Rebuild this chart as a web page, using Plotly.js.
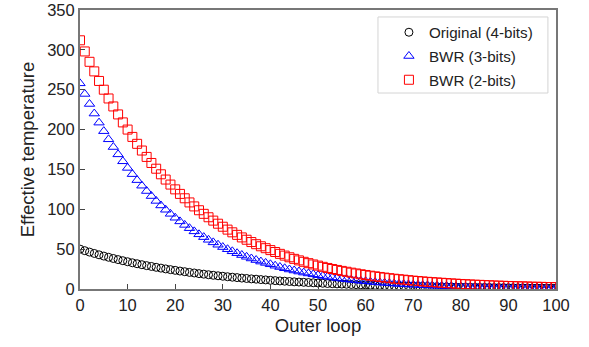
<!DOCTYPE html>
<html>
<head>
<meta charset="utf-8">
<script src="https://cdn.plot.ly/plotly-3.0.1.min.js"></script>
<style>html,body{margin:0;padding:0;background:#fff;}#chart{width:589px;height:347px;}</style>
</head>
<body>
<div id="chart"></div>
<script>
const outerLoop = Array.from({length: 101}, (_, i) => i);

const original4 = [50.0,48.1,46.3,44.6,42.9,41.3,39.8,38.3,36.9,35.5,
34.2,32.9,31.7,30.5,29.3,28.3,27.2,26.2,25.2,24.3,
23.4,22.5,21.7,20.8,20.1,19.3,18.6,17.9,17.2,16.6,
16.0,15.4,14.8,14.3,13.7,13.2,12.7,12.3,11.8,11.4,
10.9,10.5,10.1,9.8,9.4,9.0,8.7,8.4,8.1,7.8,
7.5,7.2,6.9,6.7,6.4,6.2,6.0,5.7,5.5,5.3,
5.1,4.9,4.7,4.6,4.4,4.2,4.1,3.9,3.8,3.6,
3.5,3.4,3.3,3.1,3.0,2.9,2.8,2.7,2.6,2.5,
2.4,2.3,2.2,2.1,2.0,2.0,1.9,1.8,1.8,1.7,
1.6,1.6,1.5,1.5,1.4,1.3,1.3,1.3,1.2,1.2,1.1];

const bwr3 = [258,244.7,232.1,220.1,208.7,198.0,187.8,178.1,168.9,160.2,
151.9,144.1,136.6,129.6,122.9,116.6,110.5,104.8,99.4,94.3,
89.4,84.8,80.4,76.3,72.3,68.6,65.1,61.7,58.5,55.5,
52.6,49.9,47.3,44.9,42.6,40.4,38.3,36.3,34.4,32.7,
31.0,29.2,27.6,26.0,24.5,23.2,21.9,20.6,19.5,18.4,
17.3,16.3,15.4,14.5,13.7,12.9,12.2,11.5,10.9,10.2,
9.7,9.1,8.6,8.1,7.7,7.2,6.8,6.4,6.1,5.7,
5.4,5.1,4.8,4.5,4.3,4.0,3.8,3.6,3.4,3.2,
3.0,2.8,2.7,2.5,2.4,2.2,2.1,2.0,1.9,1.8,
1.7,1.6,1.5,1.4,1.3,1.2,1.2,1.1,1.0,1.0,0.9];

const bwr2 = [312,298,285,273,261,250,239,229,219,209,
200,190.8,182.1,173.7,165.7,158.1,150.9,143.9,137.3,131.0,
125.0,119.3,113.8,108.6,103.6,98.8,94.3,90.0,85.8,81.9,
78.1,74.5,71.1,67.9,64.7,61.8,58.9,56.2,53.6,51.2,
48.8,46.4,44.1,41.9,39.8,37.8,35.9,34.1,32.4,30.8,
29.3,27.8,26.4,25.1,23.9,22.7,21.6,20.5,19.5,18.5,
17.6,16.7,15.9,15.1,14.3,13.6,12.9,12.3,11.7,11.1,
10.5,10.0,9.5,9.0,8.6,8.2,7.8,7.4,7.0,6.7,
6.3,6.0,5.7,5.4,5.2,4.9,4.7,4.4,4.2,4.0,
3.8,3.6,3.4,3.3,3.1,2.9,2.8,2.7,2.5,2.4,2.3];

const seriesNames = ['Original (4-bits)', 'BWR (3-bits)', 'BWR (2-bits)'];
const xTicks = [0,10,20,30,40,50,60,70,80,90,100];
const yTicks = [0,50,100,150,200,250,300,350];

const traces = [
  {x: outerLoop, y: original4, name: seriesNames[0], legendgroup: 'a', type: 'scatter', mode: 'markers',
   marker: {symbol: 'circle-open', size: 8, color: '#000000', line: {width: 1}}},
  {x: outerLoop, y: bwr3, name: seriesNames[1], legendgroup: 'b', type: 'scatter', mode: 'markers',
   marker: {symbol: 'triangle-up-open', size: 9, color: '#0000ff', line: {width: 1}}},
  {x: outerLoop, y: bwr2, name: seriesNames[2], legendgroup: 'c', type: 'scatter', mode: 'markers',
   marker: {symbol: 'square-open', size: 9, color: '#ff0000', line: {width: 1}}}
];

const font = {family: 'Liberation Sans, Arial, sans-serif', color: '#222'};

const layout = {
  width: 589, height: 347,
  margin: {l: 80, r: 33, t: 10, b: 58},
  paper_bgcolor: '#fff', plot_bgcolor: '#fff',
  font: Object.assign({size: 16}, font),
  showlegend: true,
  legend: {x: 0.649, y: 0.979, xanchor: 'left', yanchor: 'top',
    bgcolor: 'rgba(0,0,0,0)', borderwidth: 0,
    font: Object.assign({size: 15.2}, font), itemwidth: 30,
    traceorder: 'grouped', tracegroupgap: 1},
  shapes: [{type: 'rect', xref: 'paper', yref: 'paper', x0: 0.626, x1: 0.983, y0: 0.7025, y1: 0.975,
    line: {color: '#d4d4d4', width: 1}, fillcolor: '#ffffff', layer: 'above'}],
  xaxis: {range: [0, 100], tickvals: xTicks, ticks: 'inside', ticklen: 5, tickcolor: '#444',
    showline: true, linecolor: '#777', linewidth: 2, mirror: true, showgrid: false, zeroline: false,
    tickfont: Object.assign({size: 16.5}, font),
    title: {text: 'Outer loop', font: Object.assign({size: 18.5}, font), standoff: 6}},
  yaxis: {range: [0, 350], tickvals: yTicks, ticks: 'inside', ticklen: 5, tickcolor: '#444',
    showline: true, linecolor: '#777', linewidth: 2, mirror: true, showgrid: false, zeroline: false,
    tickfont: Object.assign({size: 16.5}, font),
    title: {text: 'Effective temperature', font: Object.assign({size: 18.5}, font), standoff: 8}}
};

Plotly.newPlot('chart', traces, layout, {displayModeBar: false, staticPlot: true});
</script>
</body>
</html>
